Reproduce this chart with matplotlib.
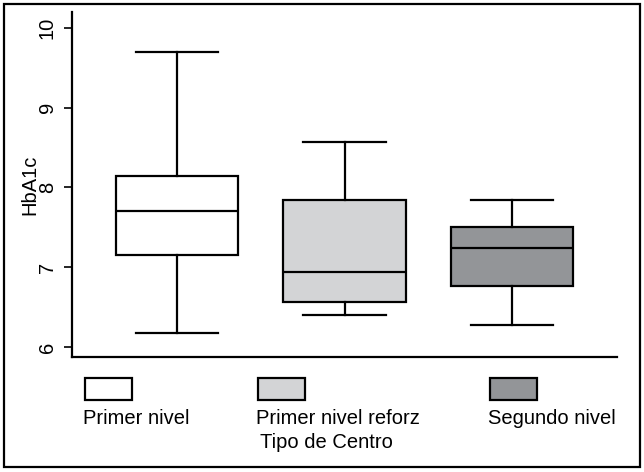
import matplotlib.pyplot as plt
from matplotlib.patches import Rectangle

plt.rcParams['font.family'] = ['Liberation Sans', 'DejaVu Sans']

# data
groups = ['Primer nivel', 'Primer nivel reforz', 'Segundo nivel']
whislo = [6.18, 6.40, 6.28]
q1 = [7.15, 6.56, 6.77]
med = [7.70, 6.94, 7.24]
q3 = [8.15, 7.84, 7.50]
whishi = [9.70, 8.57, 7.84]
colors = ['#ffffff', '#d3d4d6', '#939598']
yticks = [6, 7, 8, 9, 10]

fig = plt.figure(figsize=(6.44, 4.72), dpi=100)
ax = fig.add_axes([72 / 644, 1 - 357 / 472, 545 / 644, 345 / 472])

stats = []
for i, g in enumerate(groups):
    stats.append({'label': g, 'whislo': whislo[i], 'q1': q1[i], 'med': med[i],
                  'q3': q3[i], 'whishi': whishi[i], 'fliers': []})

lw = 1.6
bp = ax.bxp(stats, positions=[1, 2, 3], widths=0.734, capwidths=0.49,
            patch_artist=True, showfliers=False,
            boxprops=dict(linewidth=lw, edgecolor='black'),
            whiskerprops=dict(linewidth=lw, color='black'),
            capprops=dict(linewidth=lw, color='black'),
            medianprops=dict(linewidth=lw, color='black'))
for patch, c in zip(bp['boxes'], colors):
    patch.set_facecolor(c)

fs = 14.5
ax.set_xlim(0.373, 3.627)
ax.set_ylim(5.875, 10.2)
ax.set_xticks([])
ax.set_yticks(yticks)
ax.set_yticklabels([str(t) for t in yticks], rotation=90, va='center', fontsize=fs)
ax.tick_params(axis='y', length=6, width=1.2, pad=5)
ax.spines['top'].set_visible(False)
ax.spines['right'].set_visible(False)
ax.spines['left'].set_linewidth(1.6)
ax.spines['bottom'].set_linewidth(1.6)
ax.set_ylabel('HbA1c', fontsize=fs, labelpad=-1)

# legend under the plot, Stata style
leg_x = [85, 258, 490]
for x, c, g in zip(leg_x, colors, groups):
    fig.patches.append(Rectangle((x / 644, 1 - 400 / 472), 47 / 644, 22 / 472,
                                 transform=fig.transFigure, facecolor=c,
                                 edgecolor='black', linewidth=1.6))
    fig.text((x - 2) / 644, 1 - 418 / 472, g, fontsize=fs, va='center', ha='left')
fig.text(260 / 644, 1 - 442 / 472, 'Tipo de Centro', fontsize=fs, va='center', ha='left')

# outer frame
fig.patches.append(Rectangle((4 / 644, 5 / 472), 636 / 644, 463 / 472,
                             transform=fig.transFigure, fill=False,
                             edgecolor='black', linewidth=1.6))

fig.savefig('out.png', dpi=100)
